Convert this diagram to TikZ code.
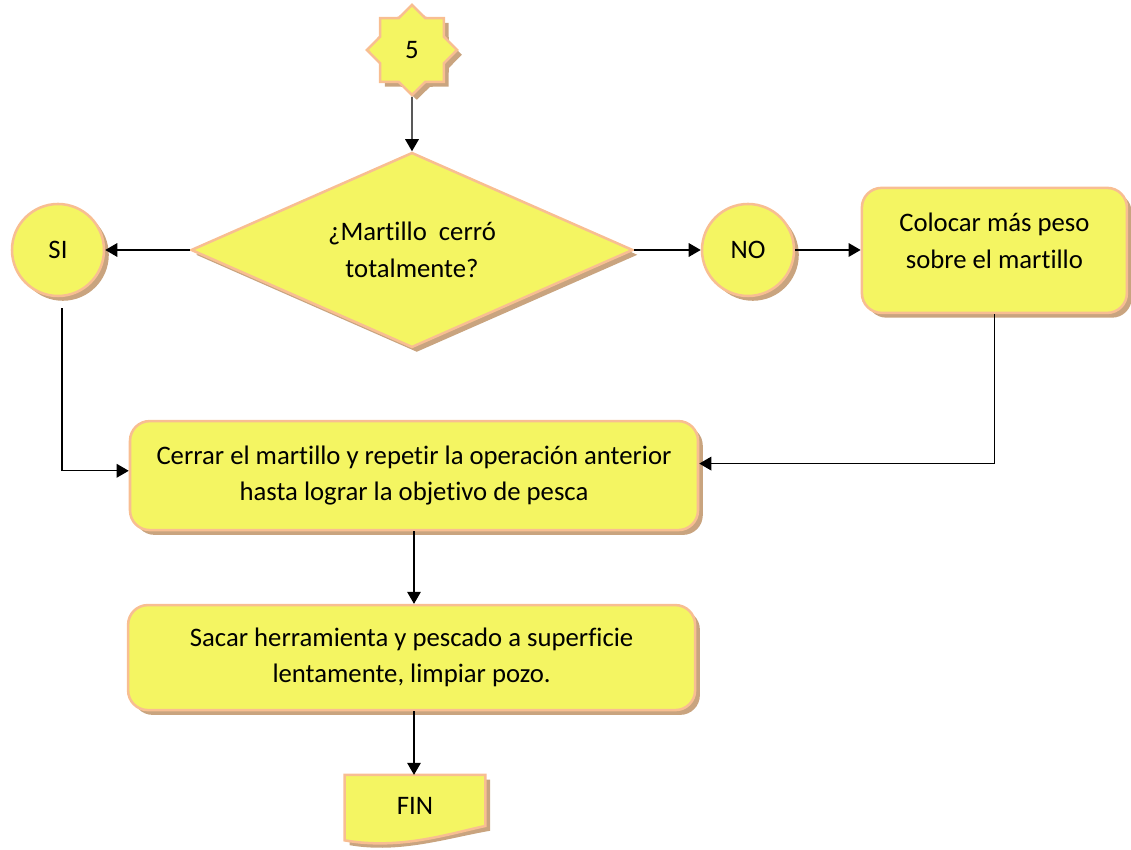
\documentclass[tikz,border=0pt]{standalone}
\usepackage{fontspec}
\setmainfont[Ligatures=NoCommon]{Carlito}
\usetikzlibrary{arrows.meta, shapes.geometric, shadows}

\definecolor{boxfill}{HTML}{F4F562}
\definecolor{boxline}{HTML}{F8BE92}
\definecolor{boxshadow}{HTML}{C9A47F}

\begin{document}
\begin{tikzpicture}[
    every node/.style={font=\fontsize{19}{26}\selectfont, align=center},
    >={Triangle[length=0.3cm, width=0.34cm]},
    shape box/.style={fill=boxfill, draw=boxline, line width=1.8pt,
        drop shadow={shadow xshift=0.12cm, shadow yshift=-0.12cm,
            fill=boxshadow, opacity=1}},
    flow/.style={->, line width=0.9pt, black},
]
\useasboundingbox (0,0) rectangle (28.275,21.25);

% === Connector (start) ===
\node[shape box, star, star points=8, star point ratio=1.3,
    minimum size=2.25cm, inner sep=0pt] (five) at (10.3, 20.0) {5};

% === Decision ===
\node[shape box, diamond, aspect=3, minimum width=11.05cm, minimum height=4.875cm,
    inner sep=0pt] (cerro) at (10.3, 15.0) {¿Martillo\ \ cerró\\totalmente?};

% === Answers ===
\node[shape box, circle, minimum size=2.3cm] (si) at (1.45, 15.0) {SI};
\node[shape box, circle, minimum size=2.3cm] (no) at (18.7, 15.0) {NO};

% === Process boxes ===
\node[shape box, rounded corners=14pt, minimum width=6.625cm,
    minimum height=3.125cm] (peso) at (24.86, 14.99)
    {Colocar más peso\\sobre el martillo\\[-12pt]};
\node[shape box, rounded corners=14pt, minimum width=14.2cm,
    minimum height=2.725cm] (cerrar) at (10.35, 9.36)
    {Cerrar el martillo y repetir la operación anterior\\hasta lograr la objetivo de pesca};
\node[shape box, rounded corners=14pt, minimum width=14.175cm,
    minimum height=2.625cm] (sacar) at (10.29, 4.81)
    {Sacar herramienta y pescado a superficie\\lentamente, limpiar pozo.};

% === End (document shape) ===
\node[minimum width=3.5cm, minimum height=1.625cm] (fin) at (10.375, 1.06) {};
\fill[boxshadow] ([shift={(0.12,-0.12)}]fin.north west) -- ([shift={(0.12,-0.12)}]fin.north east)
    -- ([shift={(0.12,-0.12)}]fin.east |- 0,0.6) .. controls (11.2,0.3) and (10.0,-0.1)
    .. ([shift={(0.12,-0.12)}]fin.south west) -- cycle;
\draw[fill=boxfill, draw=boxline, line width=1.8pt]
    (fin.north west) -- (fin.north east) -- (fin.east |- 0,0.6)
    .. controls (11.2,0.4) and (10.0,0.0) .. (fin.south west) -- cycle;
\node at ([yshift=0.05cm]fin.center) {FIN};

% === Connectors ===
\draw[flow] (five) -- (cerro);
\draw[flow] (cerro.west) -- (si);
\draw[flow] (cerro.east) -- (no);
\draw[flow] (no) -- (no -| peso.west);
\draw[flow] (peso.south) |- ([yshift=0.3cm]cerrar.east);
\draw[flow] ([shift={(0.1,-0.28)}]si.south) |- ([yshift=0.12cm]cerrar.west);
\draw[flow] (cerrar.south) -- (cerrar.south |- sacar.north);
\draw[flow] (cerrar.south |- sacar.south) -- (cerrar.south |- fin.north);

\end{tikzpicture}
\end{document}
